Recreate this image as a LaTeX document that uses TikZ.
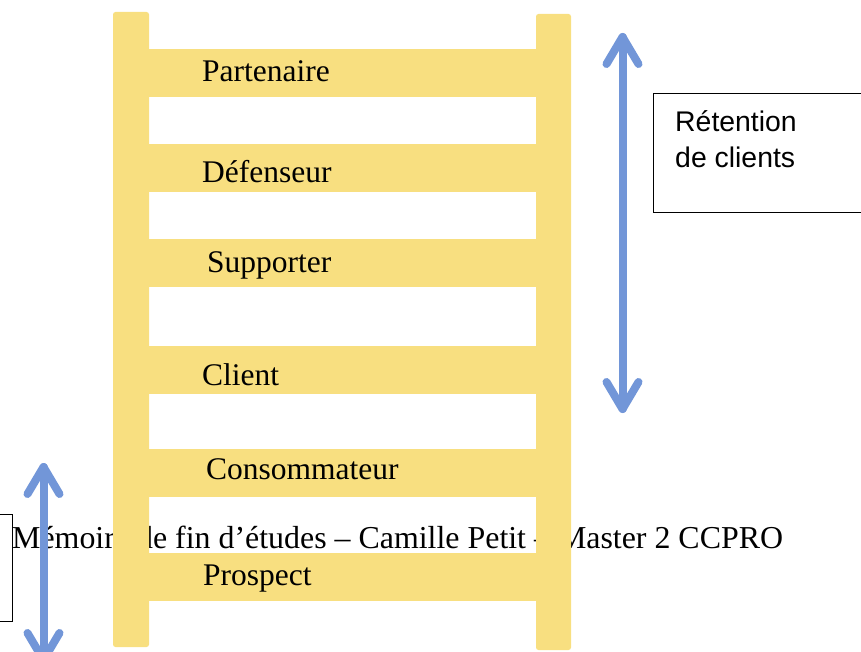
\documentclass[tikz,border=0pt]{standalone}
\usepackage{fontspec}
\setmainfont{Liberation Serif}
\newfontfamily\boxfont{Liberation Sans}
\usetikzlibrary{calc}

\definecolor{ladderyellow}{RGB}{248,223,128}
\definecolor{arrowblue}{RGB}{114,150,216}

\tikzset{
  rail/.style={fill=ladderyellow, draw=none, rounded corners=2.5pt},
  rung/.style={fill=ladderyellow, draw=none},
  steplabel/.style={anchor=base west, inner sep=0pt, font=\fontsize{31.5}{36}\selectfont},
  footer/.style={anchor=base west, inner sep=0pt, font=\fontsize{31.9}{36}\selectfont},
  boxtext/.style={anchor=base west, inner sep=0pt, font=\boxfont\fontsize{28.4}{34}\selectfont},
  sidebox/.style={draw=black, line width=1pt},
  bluearrow/.style={draw=arrowblue, line width=8pt, line cap=round, line join=round},
}

\begin{document}
\begin{tikzpicture}[x=1pt, y=-1pt]
  \useasboundingbox (0,0) rectangle (861,652);

  % footer line, partly hidden behind the ladder
  \node[footer] (foot) at (12,548) {Mémoire de fin d’études – Camille Petit – Master 2 CCPRO};

  % ladder rails
  \fill[rail] (113,12) rectangle (149,647);
  \fill[rail] (536,14) rectangle (571,650);

  % ladder rungs
  \foreach \top in {49,144,239,346,449,553} {
    \fill[rung] (140,\top) rectangle (545,\top+48);
  }

  % rung labels
  \node[steplabel] (partenaire)   at (202,82)  {Partenaire};
  \node[steplabel] (defenseur)    at (202,183) {Défenseur};
  \node[steplabel] (supporter)    at (207,272) {Supporter};
  \node[steplabel] (client)       at (202,385) {Client};
  \node[steplabel] (consommateur) at (206,479) {Consommateur};
  \node[steplabel] (prospect)     at (203,585) {Prospect};

  % retention box
  \draw[sidebox] (653,94) rectangle (900,213);
  \node[boxtext] (ret1) at (675,132) {Rétention};
  \node[boxtext] (ret2) at (675,168) {de clients};

  % left box
  \draw[sidebox] (-30,514) rectangle (12,621);

  % double arrows
  \coordinate (rtop) at (622.5,37);
  \coordinate (rbot) at (622.5,409);
  \coordinate (ltop) at (43.5,467);
  \coordinate (lbot) at (43.5,660);

  \draw[bluearrow] (rtop) -- (rbot);
  \draw[bluearrow] ($(rtop)+(-16,27)$) -- (rtop) -- ($(rtop)+(16,27)$);
  \draw[bluearrow] ($(rbot)+(-16,-27)$) -- (rbot) -- ($(rbot)+(16,-27)$);

  \draw[bluearrow] (ltop) -- (lbot);
  \draw[bluearrow] ($(ltop)+(-16,27)$) -- (ltop) -- ($(ltop)+(16,27)$);
  \draw[bluearrow] ($(lbot)+(-16,-27)$) -- (lbot) -- ($(lbot)+(16,-27)$);
\end{tikzpicture}
\end{document}
